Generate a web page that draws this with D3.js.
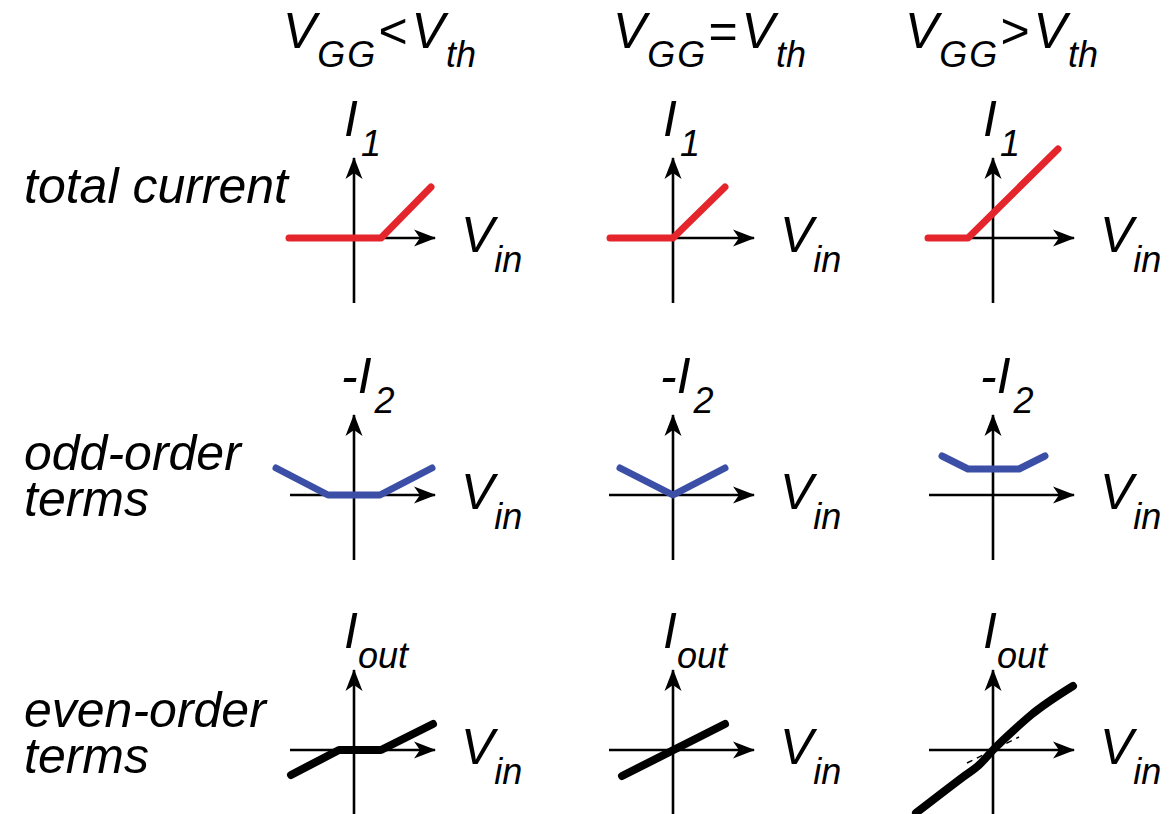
<!DOCTYPE html>
<html>
<head>
<meta charset="utf-8">
<script src="https://cdn.jsdelivr.net/npm/d3@7/dist/d3.min.js"></script>
<style>
  html, body { margin: 0; padding: 0; background: #fff; }
  svg { display: block; }
  text { font-family: "Liberation Sans", Arial, Helvetica, sans-serif; font-style: italic; fill: #000; }
</style>
</head>
<body>
<svg id="chart" width="1173" height="814"></svg>
<script>
// Column conditions (gate bias vs. threshold)
const columnHeaders = [
  { v: "V", gg: "GG", op: "<", vt: "V", th: "th" },
  { v: "V", gg: "GG", op: "=", vt: "V", th: "th" },
  { v: "V", gg: "GG", op: ">", vt: "V", th: "th" }
];

// Row descriptions
const rowLabels = [["total current"], ["odd-order", "terms"], ["even-order", "terms"]];

// Vertical-axis names per row
const yAxisNames = [
  { main: "I", sub: "1" },
  { main: "-I", sub: "2" },
  { main: "I", sub: "out" }
];
const xAxisName = { main: "V", sub: "in" };

// Transfer characteristics, in axis units (Vin, I), one polyline per column
const totalCurrent = [
  [[-6.5, 0], [2.7, 0], [7.7, 5.1]],
  [[-6.3, 0], [0, 0], [5.2, 5.1]],
  [[-6.5, 0], [-2.5, 0], [6.5, 8.9]]
];
const oddOrderTerms = [
  [[-7.8, 2.7], [-2.6, 0], [2.6, 0], [7.8, 2.7]],
  [[-5.3, 2.7], [0, 0], [5.2, 2.7]],
  [[-5.1, 3.9], [-2.5, 2.6], [2.6, 2.6], [5.2, 3.9]]
];
const evenOrderTerms = [
  [[-6.3, -2.5], [-1.5, 0], [2.7, 0], [7.9, 2.6]],
  [[-5.1, -2.6], [5.2, 2.6]],
  [[-7.7, -6.3], [-3.0, -2.7], [-1.4, -1.5], [0, 0], [2.1, 2.0], [3.8, 3.5], [8.0, 6.4]]
];
// Linear reference drawn dashed under the strongly-biased even-order curve
const evenLinearReference = [[-2.6, -1.3], [2.6, 1.3]];

// Axis extents in axis units
const axisExtent = { xMin: -6.4, xMax: 8.1, yMin: -6.5, yMax: 8.0 };

// ---- layout ----
const colOrigins = [354, 673, 993];
const rowOrigins = [238, 495, 750];
const headerLeft = [283, 613, 905];
const rowSeries = [totalCurrent, oddOrderTerms, evenOrderTerms];
const rowStyles = [
  { color: "#e5252c", width: 7 },
  { color: "#3b4fa6", width: 7 },
  { color: "#000000", width: 8 }
];
const mainSize = 50, subSize = 36, subDrop = 19;

const svg = d3.select("#chart");

// Barbed arrowhead
svg.append("defs").append("marker")
  .attr("id", "arrow")
  .attr("markerUnits", "userSpaceOnUse")
  .attr("viewBox", "-22 -10 24 20")
  .attr("refX", 0).attr("refY", 0)
  .attr("markerWidth", 24).attr("markerHeight", 20)
  .attr("orient", "auto")
  .append("path")
  .attr("d", "M1,0 L-21,-8.5 L-15,0 L-21,8.5 Z")
  .attr("fill", "#000");

// Column headers
columnHeaders.forEach((h, i) => {
  const t = svg.append("text").attr("x", headerLeft[i]).attr("y", 48).attr("font-size", mainSize);
  t.append("tspan").text(h.v);
  t.append("tspan").attr("font-size", subSize).attr("dy", subDrop).attr("dx", 1)
    .attr("letter-spacing", 2).text(h.gg);
  t.append("tspan").attr("font-style", "normal").attr("dy", -subDrop).attr("dx", 1).text(h.op);
  t.append("tspan").attr("dx", 4).text(h.vt);
  t.append("tspan").attr("font-size", subSize).attr("dy", subDrop).attr("dx", 1).text(h.th);
});

// Row labels
const rowLabelBase = [203, 470, 727];
rowLabels.forEach((lines, r) => {
  const t = svg.append("text").attr("x", 24).attr("y", rowLabelBase[r]).attr("font-size", mainSize);
  lines.forEach((ln, k) => {
    t.append("tspan").attr("x", 24).attr("dy", k === 0 ? 0 : 46).text(ln);
  });
});

// Panels
rowOrigins.forEach((oy, r) => {
  colOrigins.forEach((ox, c) => {
    const x = d3.scaleLinear().domain([-10, 10]).range([ox - 100, ox + 100]);
    const y = d3.scaleLinear().domain([-10, 10]).range([oy + 100, oy - 100]);
    const g = svg.append("g");

    // axes with arrowheads
    g.append("line")
      .attr("x1", x(axisExtent.xMin)).attr("y1", y(0))
      .attr("x2", x(axisExtent.xMax)).attr("y2", y(0))
      .attr("stroke", "#000").attr("stroke-width", 2.6)
      .attr("marker-end", "url(#arrow)");
    g.append("line")
      .attr("x1", x(0)).attr("y1", y(axisExtent.yMin))
      .attr("x2", x(0)).attr("y2", y(axisExtent.yMax))
      .attr("stroke", "#000").attr("stroke-width", 2.6)
      .attr("marker-end", "url(#arrow)");

    // axis names
    const yn = yAxisNames[r];
    const yl = g.append("text")
      .attr("x", x(0) - (yn.main.length > 1 ? 13 : 10))
      .attr("y", y(axisExtent.yMax) - 22)
      .attr("font-size", mainSize);
    yl.append("tspan").text(yn.main);
    yl.append("tspan").attr("font-size", subSize).attr("dy", subDrop + 1)
      .attr("dx", yn.sub === "out" ? 0 : 3).text(yn.sub);

    const xl = g.append("text")
      .attr("x", x(axisExtent.xMax) + 26)
      .attr("y", y(0) + 14)
      .attr("font-size", mainSize);
    xl.append("tspan").text(xAxisName.main);
    xl.append("tspan").attr("font-size", subSize).attr("dy", subDrop + 1).text(xAxisName.sub);

    // reference line (dashed) for the strongly biased even-order panel
    if (r === 2 && c === 2) {
      g.append("path")
        .datum(evenLinearReference)
        .attr("d", d3.line().x(d => x(d[0])).y(d => y(d[1])))
        .attr("fill", "none").attr("stroke", "#000")
        .attr("stroke-width", 1.5).attr("stroke-dasharray", "6,5");
    }

    // characteristic curve
    const smooth = (r === 2 && c === 2);
    const line = d3.line()
      .x(d => x(d[0])).y(d => y(d[1]))
      .curve(smooth ? d3.curveMonotoneX : d3.curveLinear);
    g.append("path")
      .datum(rowSeries[r][c])
      .attr("d", line)
      .attr("fill", "none")
      .attr("stroke", rowStyles[r].color)
      .attr("stroke-width", rowStyles[r].width)
      .attr("stroke-linecap", "round")
      .attr("stroke-linejoin", "round");
  });
});
</script>
</body>
</html>
